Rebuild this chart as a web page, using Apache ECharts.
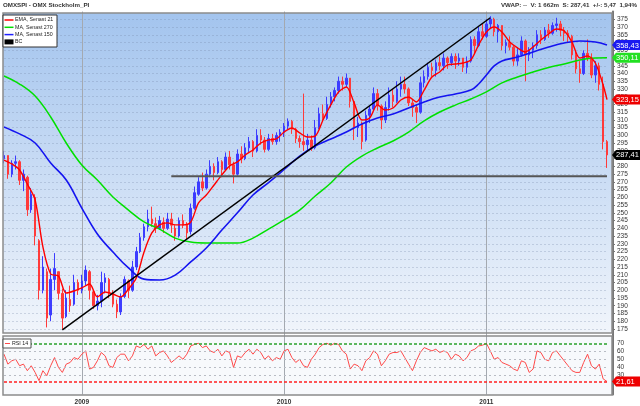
<!DOCTYPE html>
<html><head><meta charset="utf-8">
<script src="https://cdn.jsdelivr.net/npm/echarts@6/dist/echarts.min.js"></script>
<style>html,body{margin:0;padding:0;background:#fff}#c{width:640px;height:406px}</style>
</head><body><div id="c"></div><script>
// ---- data (weekly) ----
const weekStart = '2008-08-11';
const weekCount = 156;
const priceOpen = [285,287,275,282,283,271,273,252,260,232,200,212,184,207,212,198,183,194,191,205,200,206,212,199,190,193,205,207,198,191,186,196,206,200,215,225,234,241,246,243,240,244,240,246,240,235,245,242,238,253,262,270,266,275,280,276,283,278,286,281,275,288,285,292,296,290,300,297,291,298,296,300,302,306,309,304,298,296,294,297,292,305,314,311,320,325,329,335,333,337,322,305,308,297,313,317,327,319,310,318,326,322,330,333,330,321,318,315,334,338,344,342,347,345,350,347,351,348,350,344,348,362,358,367,364,372,375,367,371,358,360,357,348,352,361,352,355,358,365,362,368,366,371,372,368,366,364,352,343,340,353,350,339,345,333,296];
const priceClose = [287,275,282,283,271,275,252,262,235,200,215,182,207,214,198,182,195,190,205,200,206,213,200,190,193,205,208,198,191,186,196,207,200,215,225,234,241,246,243,240,245,240,246,242,235,245,242,237,253,263,270,266,275,280,276,283,278,286,281,275,288,285,292,296,290,300,297,291,298,296,300,302,306,309,304,298,296,294,297,292,305,314,311,320,325,329,335,333,337,322,305,308,296,313,317,327,319,310,318,326,322,330,333,330,321,318,315,334,338,344,342,347,345,350,347,351,348,350,344,348,362,358,367,364,372,375,367,371,358,360,357,348,352,361,352,355,358,365,362,368,366,371,372,368,366,364,352,343,340,353,350,339,345,333,296,287.41];
const priceLow = [282,272,273,278,268,264,248,250,229,194,198,176,180,200,194,175,182,186,190,197,198,203,194,188,187,189,198,195,189,182,184,195,195,199,213,224,232,238,241,237,239,237,239,237,232,234,240,233,236,252,261,264,265,273,271,275,273,277,278,269,274,282,284,289,286,289,294,289,290,294,294,296,299,304,301,295,292,290,290,290,291,304,309,310,318,322,327,329,331,318,297,299,291,296,308,316,316,304,308,316,318,321,325,327,319,312,308,314,331,336,338,338,342,342,343,345,343,345,341,340,347,353,357,362,363,369,364,360,355,353,355,345,345,351,335,348,350,356,359,361,363,365,367,364,361,360,349,340,334,339,348,337,334,329,291,279];
const priceHigh = [290,287,284,287,284,278,274,266,262,233,222,214,214,224,212,201,200,203,210,207,210,216,213,200,197,212,211,208,200,194,198,209,207,219,228,237,243,252,254,247,248,247,250,250,242,247,249,244,256,267,273,276,278,284,282,286,284,289,290,283,291,293,295,299,297,304,304,299,301,301,302,304,308,311,310,305,300,327,301,300,310,318,320,325,328,331,338,338,340,337,322,312,309,316,319,331,330,320,322,331,330,335,338,338,331,323,320,338,342,347,347,349,351,353,351,353,353,353,350,351,364,364,370,372,375,377,376,372,371,362,364,358,357,364,362,357,360,368,368,370,372,373,376,374,370,368,365,354,348,355,362,353,348,347,338,297];

const emaWeek = [0,2,4,6,8,10,12,14,16,18,20,22,24,26,28,30,32,34,36,38,40,42,44,46,48,50,52,54,56,58,60,62,64,66,68,70,72,74,76,78,80,82,84,86,88,90,92,94,96,98,100,102,104,106,108,110,112,114,116,118,120,122,124,126,128,130,132,134,136,138,140,142,144,146,148,150,152,154,155];
const emaValue = [284.1,281.6,277.7,268.6,258.3,228,210.5,209.2,198.2,199.5,201.5,204,195.7,198.9,197.6,195.7,200.8,207.9,224.7,237,242.2,243.5,242.2,242.2,244.1,256.4,261.5,268,274.5,280.3,282.9,287.4,290.6,295.1,297.1,297.7,302.2,304.8,301.6,299,299.6,310,319.7,328,331.3,321,310,311.3,319.7,316.4,317.7,322.9,324.8,321.6,329.3,337.7,341,345.5,346.1,346.8,348.7,358.4,366.8,370,366.8,360.3,356.5,353.9,357.1,361.6,365.5,368.7,367.4,360.3,350,351.3,346.8,332.6,323.15];

const ma270Week = [0,4,8,12,16,20,24,28,32,36,40,44,48,52,56,60,64,68,72,76,80,84,88,92,96,100,104,108,112,116,120,124,128,132,136,140,144,148,152,155];
const ma270Value = [338.4,333.2,325.4,311.9,295.1,280.9,271.2,260.2,251.8,244.1,239.5,233.7,231.1,230.5,230.5,230.5,233.7,239.5,245.4,251.8,260.9,269.3,279.6,286.7,291.9,296.4,302.2,309.4,315.1,319.6,323.5,328.1,333.9,337.7,341,343.9,346.1,348.7,350,350.11];

const ma150Week = [0,4,8,12,16,20,24,28,32,36,40,44,48,52,56,60,64,68,72,76,80,84,88,92,96,100,104,108,112,116,120,122,124,126,128,132,136,140,144,148,152,155];
const ma150Value = [305.5,301,295.1,282.2,271.2,253.1,236.3,224.7,214.4,207.2,206.6,209.8,218.3,227.3,238.9,250,261.5,269.5,278,286.7,293.2,297.7,302.2,307.4,311.3,313.8,317.7,321.6,324.8,326.8,329.3,333.2,339,344.9,348.1,350.6,353.9,357.1,359.7,361,360.3,358.43];

const trendUpWeek = [15,125];
const trendUpValue = [174.4,376];
const supportWeek = [43,155];
const supportValue = [273.7,273.7];

const rsiValue = [56.5,43.8,48,50,41.7,43.8,35.4,41.7,33.2,22.7,35.4,29,41.7,52.2,39.6,33.2,43.8,45.9,52.2,50,56.5,60.7,37.5,39.6,48,58.6,54.3,41.7,39.6,52.2,56.5,56.5,48,54.3,67,64.9,69,62.8,67,54.3,58.6,60.7,54.3,45.9,50,54.3,50,56.5,67,69,70.4,64.9,67,60.7,58.6,62.8,54.3,60.7,58.6,39.6,54.3,52.2,58.6,62.8,56.5,62.8,58.6,50,54.3,48,52.2,50,60.7,62.8,52.2,45.9,50,41.7,39.6,50,56.5,64.9,69,70.4,67.9,70.4,69,60.7,56.5,37.5,43.8,41.7,35.4,48,52.2,60.7,56.5,41.7,48,56.5,58.6,58.6,60.7,52.2,43.8,35.4,48,58.6,64.9,62.8,60.7,62.8,58.6,60.7,58.6,50,56.5,54.3,48,52.2,60.7,62.8,67,67.9,70.4,60.7,50,52.2,45.9,43.8,41.7,37.5,35.4,48,45.9,33.2,37.5,60.7,58.6,50,48,58.6,60.7,54.3,48,41.7,35.4,33.2,33.2,45.9,56.5,41.7,37.5,43.8,25,21.61];
const rsiLevels = {high: 70, low: 21.61, mid: [30,40,50,60]};
const priceTicks = {min: 170, max: 380, step: 5};
const rsiTicks = {min: 5, max: 79.7, step: 5, shown: [30,40,50,60,70]};

const legendItems = [
  {name: 'EMA, Senast 21', color: '#ff0000'},
  {name: 'MA, Senast 270', color: '#00dd00'},
  {name: 'MA, Senast 150', color: '#2020ff'},
  {name: 'BC', color: '#000000', box: true}
];
const titleText = 'OMXSPI - OMX Stockholm_PI';
const infoText = 'VWAP: --  V: 1 662m  S: 287,41  +/-: 5,47  1,94%';

// ---- build ----
const DAY = 86400000;
const t0 = Date.parse(weekStart + 'T00:00:00Z');
const dates = [];
for (let i = 0; i < weekCount; i++) dates.push(new Date(t0 + i * 7 * DAY).toISOString().slice(0, 10));
function newYearIn(d) {
  const t = Date.parse(d + 'T00:00:00Z');
  const a = new Date(t), b = new Date(t + 6 * DAY);
  if (a.getUTCMonth() === 0 && a.getUTCDate() === 1) return a.getUTCFullYear();
  return b.getUTCFullYear() !== a.getUTCFullYear() ? b.getUTCFullYear() : 0;
}
const pairs = (xs, ys) => xs.map((x, i) => [x, ys[i]]);
const FONT = 'Liberation Sans';

const chart = echarts.init(document.getElementById('c'), null, {renderer: 'canvas'});
const xCommon = {
  type: 'category', data: dates, boundaryGap: false,
  axisLine: {show: false}, axisTick: {show: false},
  splitLine: {show: true, interval: (i, v) => !!newYearIn(v), lineStyle: {color: '#a4a9b0', width: 1}}
};
chart.setOption({
  animation: false,
  grid: [
    {left: 4, right: 33, top: 11.56, height: 325.14},
    {left: 4, right: 33, top: 336, height: 59}
  ],
  xAxis: [
    Object.assign({gridIndex: 0, axisLabel: {show: false}}, xCommon),
    Object.assign({gridIndex: 1, axisLabel: {show: true, interval: (i, v) => !!newYearIn(v),
      formatter: v => { const y = newYearIn(v); return y ? String(y) : ''; },
      fontSize: 6.5, fontWeight: 'bold', color: '#333', fontFamily: FONT, margin: 4.5}}, xCommon)
  ],
  yAxis: [
    {gridIndex: 0, type: 'value', position: 'right', offset: 6, min: priceTicks.min, max: priceTicks.max, interval: priceTicks.step,
      axisLine: {show: true, lineStyle: {color: '#777', width: 2}},
      axisTick: {show: true, length: 2, lineStyle: {color: '#777'}},
      axisLabel: {fontSize: 6.5, color: '#333', fontFamily: FONT, margin: 4, showMinLabel: false, showMaxLabel: false},
      splitLine: {show: true, showMinLine: false, showMaxLine: false, lineStyle: {color: 'rgba(110,130,160,0.28)', type: [2, 2], width: 1}}},
    {gridIndex: 1, type: 'value', position: 'right', offset: 6, min: rsiTicks.min, max: rsiTicks.max, interval: rsiTicks.step,
      axisLine: {show: true, lineStyle: {color: '#777', width: 2}},
      axisTick: {show: false},
      axisLabel: {fontSize: 6.5, color: '#333', fontFamily: FONT, margin: 4, showMinLabel: false, showMaxLabel: false,
        formatter: v => rsiTicks.shown.indexOf(v) >= 0 ? String(v) : ''},
      splitLine: {show: false}}
  ],
  series: [
    {type: 'candlestick', xAxisIndex: 0, yAxisIndex: 0, barWidth: 2,
      data: priceOpen.map((o, i) => [o, priceClose[i], priceLow[i], priceHigh[i]]),
      itemStyle: {color: '#3c3cff', color0: '#ff3a3a', borderColor: '#3c3cff', borderColor0: '#ff3a3a', borderWidth: 1}},
    {type: 'line', name: 'MA270', data: pairs(ma270Week, ma270Value), smooth: 0.4, showSymbol: false,
      lineStyle: {color: '#00e000', width: 1.5}},
    {type: 'line', name: 'MA150', data: pairs(ma150Week, ma150Value), smooth: 0.4, showSymbol: false,
      lineStyle: {color: '#1414f0', width: 1.6}},
    {type: 'line', name: 'EMA', data: pairs(emaWeek, emaValue), smooth: 0.3, showSymbol: false,
      lineStyle: {color: '#ff0000', width: 1.4}},
    {type: 'line', name: 'BC1', data: pairs(trendUpWeek, trendUpValue), showSymbol: false,
      lineStyle: {color: '#000', width: 1.5}},
    {type: 'line', name: 'BC2', data: pairs(supportWeek, supportValue), showSymbol: false,
      lineStyle: {color: '#555', width: 2}},
    {type: 'line', name: 'RSI', xAxisIndex: 1, yAxisIndex: 1, data: rsiValue, showSymbol: false,
      lineStyle: {color: '#ff4a4a', width: 1},
      markLine: {silent: true, symbol: 'none', label: {show: false}, animation: false,
        data: [
          {yAxis: rsiLevels.high, lineStyle: {color: '#2aa02a', type: [3, 2], width: 1.5}},
          {yAxis: rsiLevels.low, lineStyle: {color: '#ff2020', type: [3, 2], width: 1.5}}
        ].concat(rsiLevels.mid.map(v => ({yAxis: v, lineStyle: {color: '#b8bcc4', type: [2, 3], width: 1}})))}}
  ]
});

// ---- decorations ----
const els = [];
els.push({type: 'rect', z: -10, shape: {x: 3, y: 13, width: 609, height: 320},
  style: {fill: new echarts.graphic.LinearGradient(0, 0, 0, 1, [{offset: 0, color: '#a3c4ee'}, {offset: 1, color: '#f1f5fb'}])}});
els.push({type: 'rect', z: -10, shape: {x: 3, y: 336, width: 609, height: 59}, style: {fill: '#f7f9fc'}});
els.push({type: 'rect', z: 50, shape: {x: 3, y: 13, width: 609, height: 320}, style: {fill: null, stroke: '#8c8c8c', lineWidth: 1.5}});
els.push({type: 'rect', z: 50, shape: {x: 3, y: 336, width: 609, height: 59}, style: {fill: null, stroke: '#8c8c8c', lineWidth: 1.5}});
els.push({type: 'text', z: 60, x: 3, y: 2, style: {text: titleText, fontSize: 6.2, fontWeight: 'bold', fill: '#333', fontFamily: FONT}});
els.push({type: 'text', z: 60, x: 637, y: 2, style: {text: infoText, fontSize: 6.2, fontWeight: 'bold', fill: '#333', fontFamily: FONT, align: 'right'}});
// legend
els.push({type: 'rect', z: 60, shape: {x: 3, y: 15, width: 54, height: 32}, style: {fill: '#fff', stroke: '#333', lineWidth: 1}});
legendItems.forEach((it, k) => {
  const y = 20 + k * 7.3;
  if (it.box) els.push({type: 'rect', z: 61, shape: {x: 4.5, y: y - 2.5, width: 9, height: 5}, style: {fill: it.color}});
  else els.push({type: 'line', z: 61, shape: {x1: 4.5, y1: y, x2: 13.5, y2: y}, style: {stroke: it.color, lineWidth: 1.5}});
  els.push({type: 'text', z: 61, x: 15, y: y, style: {text: it.name, fontSize: 5.3, fill: '#222', fontFamily: FONT, verticalAlign: 'middle'}});
});
// RSI legend
els.push({type: 'rect', z: 60, shape: {x: 3, y: 339, width: 28, height: 9}, style: {fill: '#fff', stroke: '#555', lineWidth: 1}});
els.push({type: 'line', z: 61, shape: {x1: 5, y1: 343.5, x2: 10, y2: 343.5}, style: {stroke: '#ff4a4a', lineWidth: 1}});
els.push({type: 'text', z: 61, x: 12, y: 343.5, style: {text: 'RSI 14', fontSize: 5.3, fill: '#222', fontFamily: FONT, verticalAlign: 'middle'}});
// value tags
const tags = [
  {axis: 0, v: ma150Value[ma150Value.length - 1], bg: '#1a1af0', fg: '#fff'},
  {axis: 0, v: ma270Value[ma270Value.length - 1], bg: '#22e022', fg: '#fff'},
  {axis: 0, v: emaValue[emaValue.length - 1], bg: '#ee0000', fg: '#fff'},
  {axis: 0, v: priceClose[priceClose.length - 1], bg: '#000', fg: '#fff'},
  {axis: 1, v: rsiValue[rsiValue.length - 1], bg: '#ee0000', fg: '#fff'}
];
tags.forEach(t => {
  const y = chart.convertToPixel({yAxisIndex: t.axis}, t.v);
  els.push({type: 'polygon', z: 70, shape: {points: [[612, y], [616, y - 5], [640, y - 5], [640, y + 5], [616, y + 5]]}, style: {fill: t.bg}});
  els.push({type: 'text', z: 71, x: 616, y: y + 0.5, style: {text: t.v.toFixed(2).replace('.', ','), fontSize: 7.5, fill: t.fg, fontFamily: FONT, verticalAlign: 'middle'}});
});
chart.setOption({graphic: {elements: els}});
</script></body></html>
